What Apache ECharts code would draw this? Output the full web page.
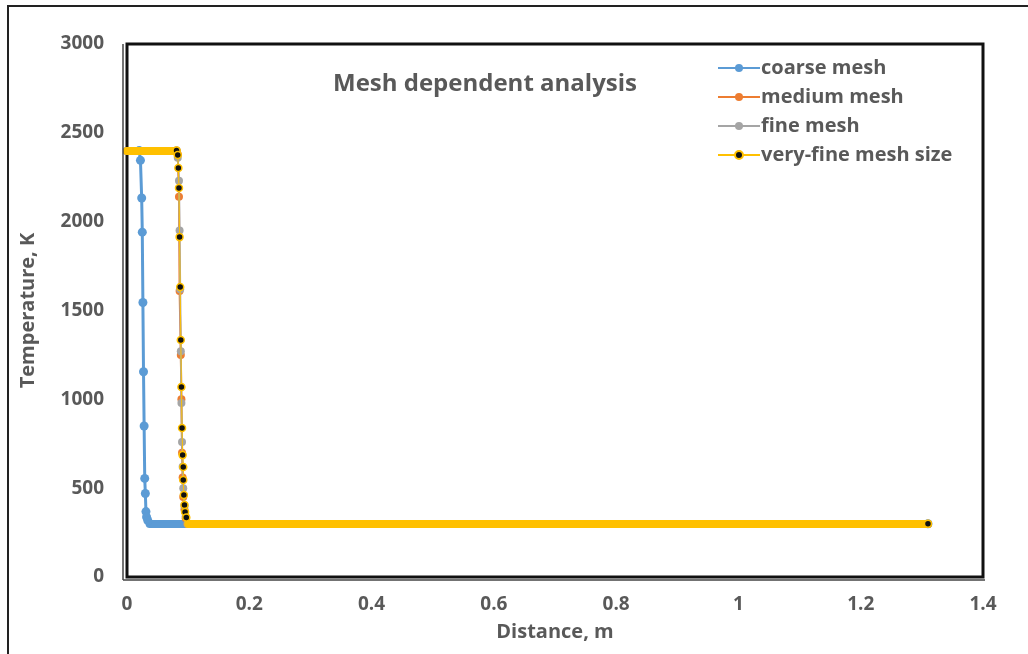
<!DOCTYPE html>
<html><head><meta charset="utf-8">
<script src="https://cdn.jsdelivr.net/npm/echarts@6/dist/echarts.min.js"></script>
<style>html,body{margin:0;padding:0;background:#fff}#c{width:1028px;height:654px}</style>
</head><body><div id="c"></div>
<script>
// ---- data ----
const seriesNames = ['coarse mesh', 'medium mesh', 'fine mesh', 'very-fine mesh size'];
const coarseX = [0, 0.02, 0.022, 0.024, 0.025, 0.026, 0.027, 0.028, 0.029, 0.030, 0.031, 0.032, 0.034, 0.037, 1.31];
const coarseY = [2400, 2400, 2345, 2133, 1941, 1545, 1155, 850, 555, 470, 368, 338, 318, 300, 300];
const mediumX = [0, 0.081, 0.083, 0.085, 0.086, 0.088, 0.089, 0.090, 0.091, 0.092, 0.094, 0.096, 0.099, 1.31];
const mediumY = [2400, 2400, 2380, 2140, 1610, 1250, 1000, 700, 560, 450, 380, 330, 300, 300];
const fineX = [0, 0.081, 0.083, 0.085, 0.086, 0.087, 0.088, 0.089, 0.090, 0.091, 0.092, 0.094, 0.096, 0.099, 1.31];
const fineY = [2400, 2400, 2360, 2230, 1950, 1620, 1270, 980, 760, 620, 500, 400, 340, 300, 300];
const veryFineX = [0, 0.081, 0.083, 0.084, 0.085, 0.086, 0.087, 0.088, 0.089, 0.090, 0.091, 0.092, 0.092, 0.093, 0.094, 0.095, 0.097, 0.1, 1.31];
const veryFineY = [2400, 2400, 2375, 2302, 2189, 1913, 1632, 1334, 1069, 838, 686, 619, 546, 461, 405, 366, 335, 300, 300];
const xTicks = {min: 0, max: 1.4, interval: 0.2};
const yTicks = {min: 0, max: 3000, interval: 500};
const titleText = 'Mesh dependent analysis';
const xName = 'Distance, m';
const yName = 'Temperature, K';

// ---- styling ----
const colors = ['#5B9BD5', '#ED7D31', '#A5A5A5', '#FFC000'];
const txt = '#595959';
const FONT = 'Open Sans';

function pts(xs, ys) { return xs.map((x, i) => [x, ys[i]]); }
// flat runs (equal consecutive y) drawn as a thick band, as the densely packed markers look in the reference
function flatBands(xs, ys) {
  const out = [];
  for (let i = 0; i < xs.length - 1; i++) {
    if (ys[i] === ys[i + 1]) out.push([{coord: [xs[i], ys[i]]}, {coord: [xs[i + 1], ys[i + 1]]}]);
  }
  return out;
}
function buildSeries(idx, xs, ys, opts) {
  const data = pts(xs, ys).map((p, i) => {
    const onFlatStart = i < ys.length - 1 && ys[i] === ys[i + 1];
    const item = {value: p};
    if (onFlatStart) item.symbolSize = 0;
    return item;
  });
  return {
    name: seriesNames[idx], type: 'line', data,
    z: 2 + idx,
    symbol: 'circle', symbolSize: opts.size, showAllSymbol: true,
    itemStyle: opts.itemStyle,
    lineStyle: {color: colors[idx], width: opts.lw},
    color: colors[idx],
    animation: false,
    markLine: {
      z: 2 + idx, silent: true, symbol: 'none', animation: false,
      label: {show: false},
      lineStyle: {color: colors[idx], width: 8, type: 'solid', cap: 'round'},
      emphasis: {disabled: true},
      data: flatBands(xs, ys)
    }
  };
}

const chart = echarts.init(document.getElementById('c'));
chart.setOption({
  animation: false,
  backgroundColor: '#fff',
  title: {text: titleText, left: 328, top: 67,
    textStyle: {fontFamily: FONT, fontSize: 24, fontWeight: 'bold', color: txt}},
  legend: {
    data: seriesNames, orient: 'vertical', left: 712, top: 53,
    itemWidth: 42, itemHeight: 10, itemGap: 9,
    textStyle: {fontFamily: FONT, fontSize: 20, fontWeight: 'bold', color: txt, padding: [0, 0, 0, -4]}
  },
  grid: {left: 127, right: 45, top: 44, bottom: 77, show: true, borderColor: '#111', borderWidth: 3},
  xAxis: {
    type: 'value', min: xTicks.min, max: xTicks.max, interval: xTicks.interval,
    name: xName, nameLocation: 'middle', nameGap: 45,
    nameTextStyle: {fontFamily: FONT, fontSize: 20, fontWeight: 'bold', color: txt},
    axisLine: {show: false}, axisTick: {show: false}, splitLine: {show: false},
    axisLabel: {margin: 18, fontFamily: FONT, fontSize: 19, fontWeight: 'bold', color: txt}
  },
  yAxis: {
    type: 'value', min: yTicks.min, max: yTicks.max, interval: yTicks.interval,
    name: yName, nameLocation: 'middle', nameGap: 89,
    nameTextStyle: {fontFamily: FONT, fontSize: 20, fontWeight: 'bold', color: txt},
    axisLine: {show: false}, axisTick: {show: false}, splitLine: {show: false},
    axisLabel: {margin: 23, fontFamily: FONT, fontSize: 19, fontWeight: 'bold', color: txt,
      formatter: v => String(v)}
  },
  graphic: [
    {type: 'rect', shape: {x: 8, y: 6, width: 1100, height: 700}, style: {fill: 'none', stroke: '#222', lineWidth: 2}, z: 100, silent: true},
    {type: 'line', shape: {x1: 123, y1: 44, x2: 123, y2: 580}, style: {stroke: '#444', lineWidth: 1.5}, z: 100, silent: true},
    {type: 'line', shape: {x1: 123, y1: 580, x2: 985, y2: 580}, style: {stroke: '#444', lineWidth: 1.5}, z: 100, silent: true}
  ],
  series: [
    buildSeries(0, coarseX, coarseY, {size: 9, lw: 3, itemStyle: {color: colors[0]}}),
    buildSeries(1, mediumX, mediumY, {size: 8, lw: 2, itemStyle: {color: colors[1]}}),
    buildSeries(2, fineX, fineY, {size: 8, lw: 2, itemStyle: {color: colors[2]}}),
    buildSeries(3, veryFineX, veryFineY, {size: 7, lw: 1, itemStyle: {color: '#111', borderColor: colors[3], borderWidth: 1.5}})
  ]
});
</script></body></html>
